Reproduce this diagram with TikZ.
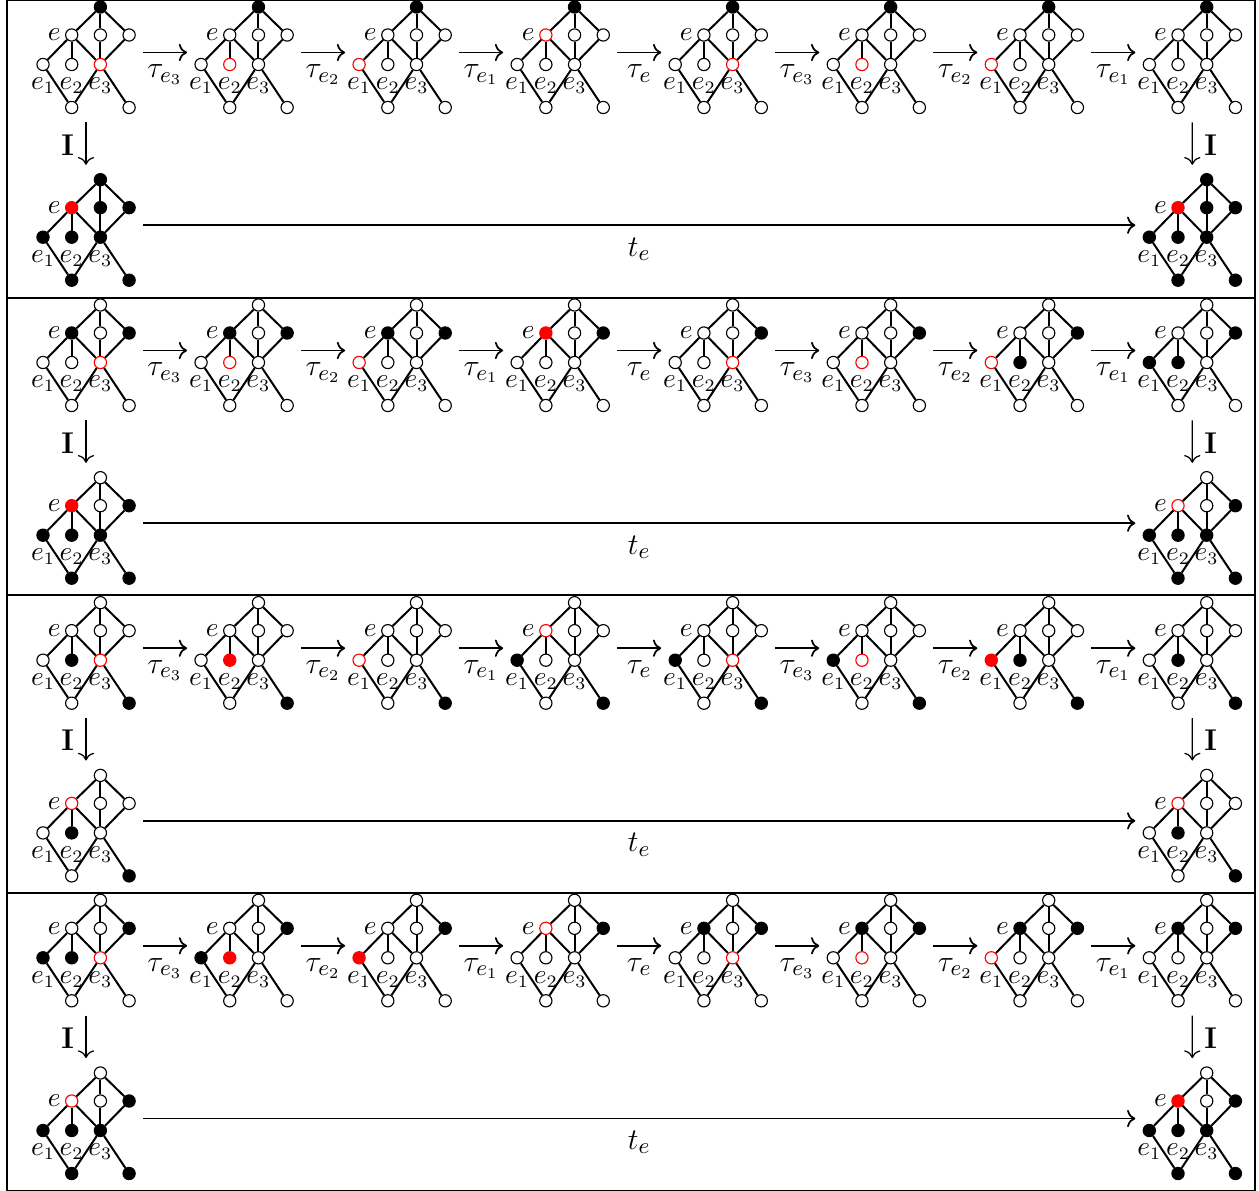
\documentclass[tikz,border=0pt]{standalone}
\usetikzlibrary{positioning, arrows.meta}

\tikzstyle{hnw} = [circle, draw=black, fill=white, line width=.45pt, minimum size=4.9pt, inner sep=0pt]
\tikzstyle{hnk} = [hnw, fill=black]
\tikzstyle{hno} = [hnw, draw=red]
\tikzstyle{hnr} = [hnw, draw=red, fill=red]
\tikzstyle{edge} = [line width=.8pt]
\tikzstyle{arrow} = [line width=.7pt, ->, >={To[scale=1.05]}]
\tikzstyle{downarrow} = [line width=.5pt, ->, >={To[scale=1.15]}]
\tikzstyle{elabel} = [inner sep=0pt, font=\fontsize{10.5}{12}\selectfont]
\tikzstyle{maplabel} = [font=\fontsize{12.6}{15}\selectfont, inner sep=4.6pt]

% one lattice: states of t, e, m, r, e1, e2, e3, d, f
\newcommand{\hasse}[9]{
    \foreach \n/\px/\py/\st in {t/28.7/28/#1, e/0/0/#2, m/28.7/0/#3, r/57.4/0/#4, a/-28.7/-29.5/#5,
        b/0/-29.5/#6, c/28.7/-29.5/#7, d/0/-72.5/#8, f/57.4/-72.5/#9}
        \node (\n) [hn\st] at (\px,\py) {};
    \draw [edge] (t) -- (e);
    \draw [edge] (t) -- (m);
    \draw [edge] (t) -- (r);
    \draw [edge] (e) -- (a);
    \draw [edge] (e) -- (b);
    \draw [edge] (e) -- (c);
    \draw [edge] (m) -- (c);
    \draw [edge] (r) -- (c);
    \draw [edge] (a) -- (d);
    \draw [edge] (c) -- (d);
    \draw [edge] (c) -- (f);
    \node (le) [elabel, left=1.6pt of e] {$e$};
    \node (la) [elabel, below=2.5pt of a] {$e_1$};
    \node (lb) [elabel, below=2.5pt of b] {$e_2$};
    \node (lc) [elabel, below=2.5pt of c] {$e_3$};
    \coordinate (in) at (-42.7,-17.5);
    \coordinate (out) at (71.4,-17.5);
    \coordinate (down) at (14.3,-87.3);
    \coordinate (up) at (14.3,42.9);
}

% one row: number, height of e, eight states, left and right states below
\newcommand{\hasserow}[5]{
    \foreach \st [count=\c] in {#3} {
        \begin{scope}[shift={({71.7+(\c-1)*158.05},#2)}, name prefix=r#1c\c-]
            \expandafter\hasse\st
        \end{scope}
    }
    \begin{scope}[shift={(71.7,#2-172.7)}, name prefix=r#1l-]
        \hasse#4
    \end{scope}
    \begin{scope}[shift={(1178,#2-172.7)}, name prefix=r#1r-]
        \hasse#5
    \end{scope}
    \foreach \i/\j/\lab in {1/2/e_3, 2/3/e_2, 3/4/e_1, 4/5/e, 5/6/e_3, 6/7/e_2, 7/8/e_1}
        \draw [arrow] (r#1c\i-out) -- node[maplabel, anchor=north] {$\tau_{\lab}$} (r#1c\j-in);
    \draw [downarrow] (r#1c1-down) -- node[maplabel, anchor=east, yshift=-.5pt] {$\mathbf{I}$} (r#1l-up);
    \draw [downarrow] (r#1c8-down) -- node[maplabel, anchor=west, yshift=-.5pt] {$\mathbf{I}$} (r#1r-up);
    \draw [arrow] (r#1l-out) -- node[maplabel, anchor=north] {$t_e$} (r#1r-in);
}

\begin{document}
\begin{tikzpicture}[x=.4pt, y=.4pt]

    \useasboundingbox (0,0) rectangle (1259,-1191);

    % Frames
    \draw [line width=.8pt] (7,-.5) rectangle (1254.7,-297.7);
    \draw [line width=.8pt] (7,-297.7) rectangle (1254.7,-595.4);
    \draw [line width=.8pt] (7,-595.4) rectangle (1254.7,-893);
    \draw [line width=.8pt] (7,-893) rectangle (1254.7,-1190.5);

    % Rows
    \hasserow{1}{-35}{kwwwwwoww, kwwwwowww, kwwwowwww, kowwwwwww, kwwwwwoww, kwwwwowww, kwwwowwww, kwwwwwwww}{krkkkkkkk}{krkkkkkkk}
    \hasserow{2}{-333}{wkwkwwoww, wkwkwowww, wkwkowwww, wrwkwwwww, wwwkwwoww, wwwkwowww, wwwkokwww, wwwkkkwww}{wrwkkkkkk}{wowkkkkkk}
    \hasserow{3}{-630.7}{wwwwwkowk, wwwwwrwwk, wwwwowwwk, wowwkwwwk, wwwwkwowk, wwwwkowwk, wwwwrkwwk, wwwwwkwwk}{wowwwkwwk}{wowwwkwwk}
    \hasserow{4}{-928.3}{wwwkkkoww, wwwkkrwww, wwwkrwwww, wowkwwwww, wkwkwwoww, wkwkwowww, wkwkowwww, wkwkwwwww}{wowkkkkkk}{wrwkkkkkk}

\end{tikzpicture}
\end{document}
